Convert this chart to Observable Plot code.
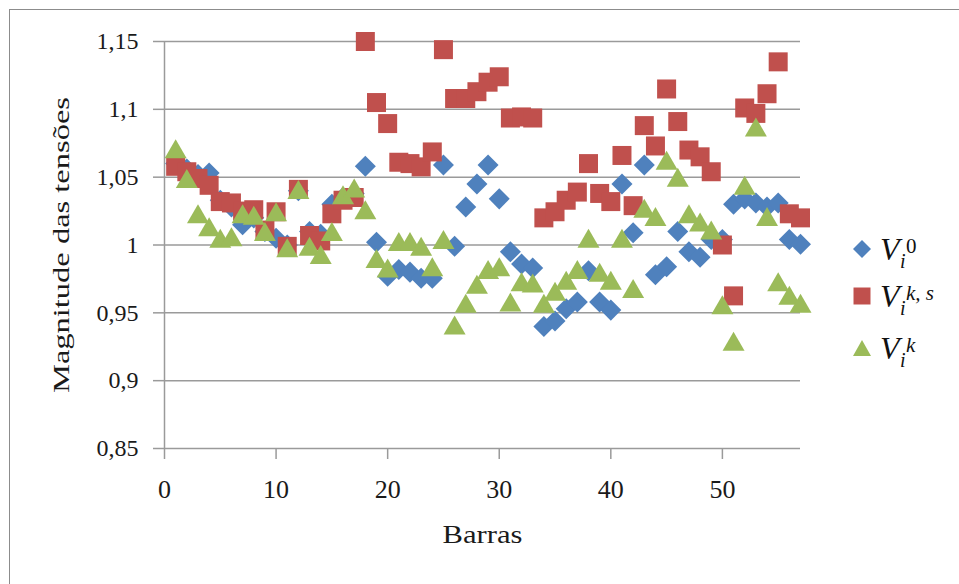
<!DOCTYPE html>
<html>
<head>
<meta charset="utf-8">
<script src="https://cdn.jsdelivr.net/npm/d3@7"></script>
<script src="https://cdn.jsdelivr.net/npm/@observablehq/plot@0.6"></script>
<style>
  html, body { margin: 0; padding: 0; background: #fff; overflow: hidden; }
  #wrap { position: relative; width: 959px; height: 584px; overflow: hidden; background: #fff; }
  #frame { position: absolute; left: 9px; top: 9px; width: 2000px; height: 2000px;
           border-left: 1.5px solid #8c8c8c; border-top: 1.5px solid #8c8c8c; pointer-events: none; }
  #chart { position: absolute; left: 0; top: 0; }
  #legend { position: absolute; left: 840px; top: 220px; }
</style>
</head>
<body>
<div id="wrap">
  <div id="chart"></div>
  <div id="frame"></div>
  <svg id="legend" width="119" height="170"></svg>
</div>
<script>
// ---- data ----
const barras = d3.range(1, 58);

const v0 = [1.060, 1.056, 1.052, 1.053, 1.033, 1.028, 1.015, 1.020, 1.010, 1.005,
            1.000, 1.040, 1.010, 1.008, 1.030, 1.035, 1.038, 1.058, 1.002, 0.977,
            0.982, 0.980, 0.9755, 0.9755, 1.059, 0.999, 1.028, 1.045, 1.059, 1.034,
            0.995, 0.986, 0.983, 0.940, 0.944, 0.953, 0.958, 0.981, 0.958, 0.952,
            1.045, 1.009, 1.059, 0.978, 0.984, 1.010, 0.995, 0.991, 1.004, 1.004,
            1.030, 1.034, 1.031, 1.028, 1.031, 1.004, 1.0005];

const vks = [1.058, 1.054, 1.049, 1.044, 1.032, 1.031, 1.025, 1.026, 1.011, 1.0245,
             0.999, 1.041, 1.007, 1.003, 1.023, 1.033, 1.035, 1.150, 1.105, 1.0895,
             1.061, 1.060, 1.0576, 1.0686, 1.144, 1.108, 1.108, 1.113, 1.120, 1.124,
             1.0936, 1.0944, 1.0936, 1.020, 1.0245, 1.033, 1.039, 1.060, 1.038, 1.032,
             1.066, 1.029, 1.088, 1.073, 1.115, 1.091, 1.070, 1.065, 1.054, 1.000,
             0.9625, 1.101, 1.097, 1.1115, 1.135, 1.023, 1.020];

const vk = [1.071, 1.049, 1.023, 1.0135, 1.005, 1.006, 1.023, 1.022, 1.010, 1.0245,
            0.998, 1.041, 0.999, 0.993, 1.010, 1.037, 1.042, 1.026, 0.990, 0.983,
            1.0025, 1.0025, 0.999, 0.984, 1.004, 0.941, 0.957, 0.971, 0.982, 0.984,
            0.958, 0.973, 0.972, 0.957, 0.966, 0.974, 0.982, 1.005, 0.980, 0.974,
            1.005, 0.968, 1.027, 1.021, 1.0625, 1.050, 1.023, 1.017, 1.011, 0.956,
            0.929, 1.044, 1.087, 1.021, 0.973, 0.963, 0.957];

const yTicks = [0.85, 0.9, 0.95, 1, 1.05, 1.1, 1.15];
const yTickLabels = ["0,85", "0,9", "0,95", "1", "1,05", "1,1", "1,15"];
const xTicks = [0, 10, 20, 30, 40, 50];

const seriesColors = ["#4F81BD", "#C0504D", "#9BBB59"];

// ---- marker shapes ----
const diamond = { draw(ctx, size) { const a = Math.sqrt(size) * 0.593;
  ctx.moveTo(0, -a); ctx.lineTo(a, 0); ctx.lineTo(0, a); ctx.lineTo(-a, 0); ctx.closePath(); } };
const square = { draw(ctx, size) { const a = Math.sqrt(size) * 0.536;
  ctx.moveTo(-a, -a); ctx.lineTo(a, -a); ctx.lineTo(a, a); ctx.lineTo(-a, a); ctx.closePath(); } };
const triangle = { draw(ctx, size) { const s = Math.sqrt(size); const w = s * 0.62, h = s * 0.536;
  ctx.moveTo(0, -h); ctx.lineTo(w, h); ctx.lineTo(-w, h); ctx.closePath(); } };

const rows = (vals) => barras.map((b, i) => ({ b, v: vals[i] }));

const chart = Plot.plot({
  width: 959,
  height: 584,
  marginLeft: 164,
  marginRight: 159,
  marginTop: 41,
  marginBottom: 136,
  style: { fontFamily: "'Liberation Serif', serif", fontSize: "26px", background: "#fff" },
  x: { domain: [0, 57] },
  y: { domain: [0.85, 1.15] },
  marks: [
    Plot.gridY(yTicks, { stroke: "#9a9a9a", strokeOpacity: 1, strokeWidth: 1.5 }),
    Plot.ruleX([0], { stroke: "#9a9a9a", strokeWidth: 1.5 }),
    Plot.axisY({ ticks: yTicks, tickFormat: (d) => yTickLabels[yTicks.indexOf(d)],
      tickSize: 11, tickPadding: 15, stroke: "#9a9a9a", strokeWidth: 1.5, fill: "#1a1a1a",
      label: "Magnitude das tensões", labelAnchor: "center", labelOffset: 113, labelArrow: "none", fontSize: 24 }),
    Plot.axisX({ ticks: xTicks, tickFormat: (d) => String(d),
      tickSize: 11, tickPadding: 20, stroke: "#9a9a9a", strokeWidth: 1.5, fill: "#1a1a1a",
      label: "Barras", labelAnchor: "center", labelOffset: 94, labelArrow: "none" }),
    Plot.dot(rows(v0), { x: "b", y: "v", symbol: diamond, r: 10, fill: seriesColors[0], stroke: null }),
    Plot.dot(rows(vks), { x: "b", y: "v", symbol: square, r: 10, fill: seriesColors[1], stroke: null }),
    Plot.dot(rows(vk), { x: "b", y: "v", symbol: triangle, r: 10, fill: seriesColors[2], stroke: null })
  ]
});
document.getElementById("chart").appendChild(chart);

// widen the axis titles to the reference's wide serif look
d3.select(chart).selectAll("text").each(function () {
  const t = this.textContent;
  if (t === "Barras") d3.select(this).attr("textLength", 80).attr("lengthAdjust", "spacingAndGlyphs");
  if (t.startsWith("Magnitude")) d3.select(this).attr("textLength", 296).attr("lengthAdjust", "spacingAndGlyphs");
});

// ---- legend ----
const lg = d3.select("#legend");
const items = [
  { sym: "M0,-9L9,0L0,9L-9,0Z", cy: 29, sup: "0", supItalic: false },
  { sym: "M-8.5,-8.5L8.5,-8.5L8.5,8.5L-8.5,8.5Z", cy: 76, sup: "k, s", supItalic: true },
  { sym: "M0,-8L9,8L-9,8Z", cy: 128, sup: "k", supItalic: true }
];
items.forEach((it, i) => {
  lg.append("path").attr("d", it.sym).attr("transform", `translate(22,${it.cy})`).attr("fill", seriesColors[i]);
  const base = it.cy + 11;
  lg.append("text").attr("x", 40).attr("y", base).text("V")
    .attr("font-family", "'Liberation Serif', serif").attr("font-style", "italic").attr("font-size", 32).attr("fill", "#111");
  lg.append("text").attr("x", 66).attr("y", base - 7).text(it.sup)
    .attr("font-family", "'Liberation Serif', serif").attr("font-style", it.supItalic ? "italic" : "normal")
    .attr("font-size", 21).attr("fill", "#111");
  lg.append("text").attr("x", 60).attr("y", base + 8).text("i")
    .attr("font-family", "'Liberation Serif', serif").attr("font-style", "italic").attr("font-size", 20).attr("fill", "#111");
});
</script>
</body>
</html>
